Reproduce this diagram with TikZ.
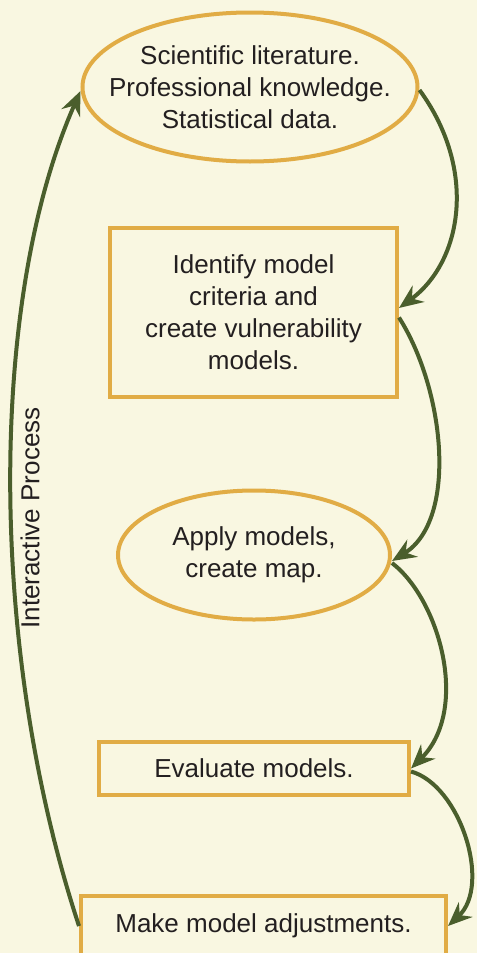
\documentclass[tikz,border=0pt]{standalone}
\usepackage{fontspec}
\setmainfont{Liberation Sans}
\usepackage{xcolor}
\usetikzlibrary{arrows.meta,shapes.geometric}
\definecolor{PaperBg}{HTML}{F9F7E1}
\definecolor{BoxGold}{HTML}{E1AC45}
\definecolor{FlowGreen}{HTML}{4A5E2C}
\definecolor{InkGray}{HTML}{231F20}

\begin{document}
\begin{tikzpicture}[x=1pt,y=1pt,
                    label text/.style={text=InkGray, align=center, font=\fontsize{26}{32}\selectfont},
                    stage/.style={draw=BoxGold, line width=4pt, inner sep=0pt, label text},
                    ovalstage/.style={stage, ellipse},
                    flow/.style={draw=FlowGreen, line width=4pt, -{Stealth[length=24pt,width=20pt,inset=8pt]}}]
                    \fill[PaperBg] (0,0) rectangle (477,-953);
                    \useasboundingbox (0,0) rectangle (477,-953);
%                    Stages
                    \node[ovalstage, minimum width=335, minimum height=149] (lit) at (250,-87) {};
                    \node[label text] (littext) at (lit.center)
                        {Scientific literature.\\Professional knowledge.\\Statistical data.};
                    \node[stage, minimum width=287, minimum height=169] (crit) at (253.5,-312.5)
                        {Identify model\\criteria and\\create vulnerability\\models.};
                    \node[ovalstage, minimum width=272, minimum height=129] (apply) at (254,-555) {};
                    \node[label text] (applytext) at (apply.center) {Apply models,\\create map.};
                    \node[stage, minimum width=310, minimum height=53] (eval) at (254,-768.5)
                        {Evaluate models.};
                    \node[stage, minimum width=365, minimum height=60] (adjust) at (263.5,-926)
                        {Make model adjustments.};

%                    Loop
                    \draw[flow] ([yshift=-3]lit.east) .. controls (478,-170) and (462,-262) .. ([yshift=4.5]crit.east);
                    \draw[flow] ([yshift=-5]crit.east) .. controls (445,-390) and (458,-520) .. ([yshift=-6]apply.east);
                    \draw[flow] ([yshift=-8]apply.east) .. controls (440,-600) and (470,-710) .. (eval.east);
                    \draw[flow] ([yshift=-3]eval.east) .. controls (460,-785) and (492,-885) .. (adjust.east);
                    \draw[flow] (adjust.west) .. controls (-12,-650) and (-12,-300) .. ([yshift=-4]lit.west);

                    \node[rotate=90, label text] (loop) at (30,-518) {Interactive Process};
                \end{tikzpicture}
\end{document}
